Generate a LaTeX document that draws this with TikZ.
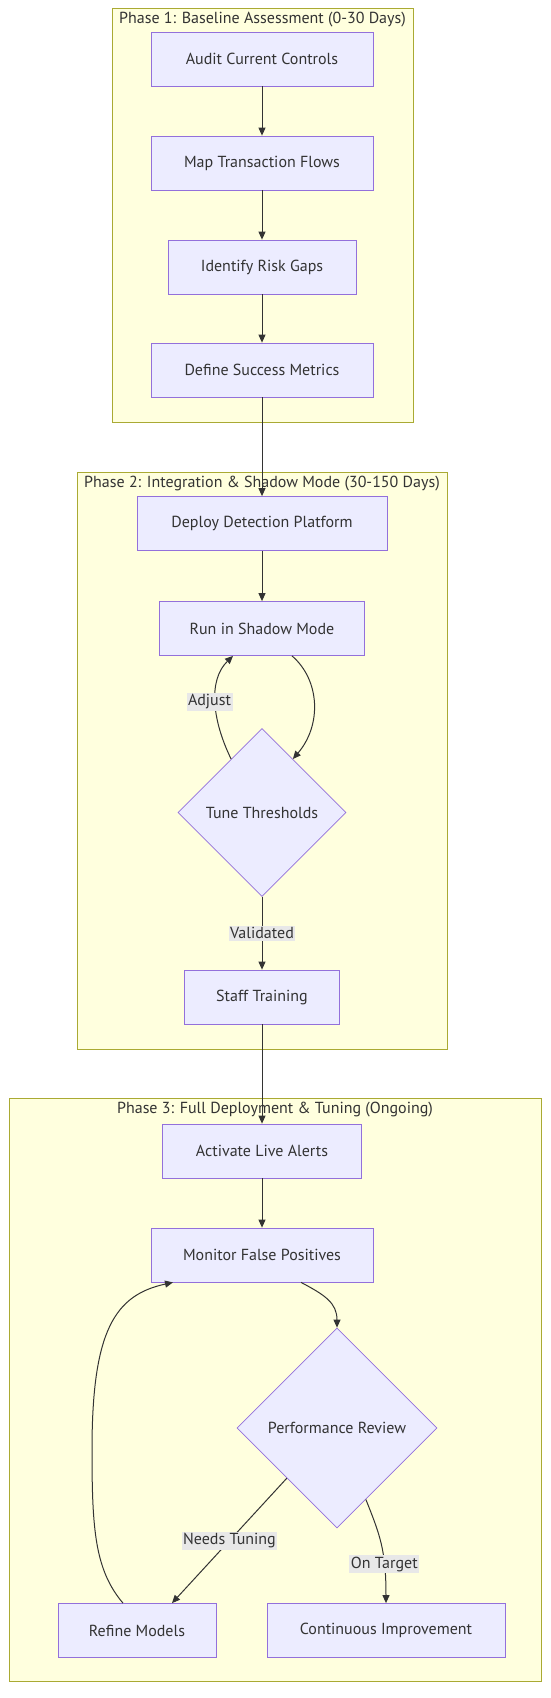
\documentclass[tikz,border=0pt]{standalone}
\usepackage{fontspec}
\setmainfont{PT Sans}
\usetikzlibrary{shapes.geometric,arrows.meta,backgrounds}
\definecolor{cajafondo}{HTML}{ECECFF}
\definecolor{cajaborde}{HTML}{9370DB}
\definecolor{fasefondo}{HTML}{FFFFDE}
\definecolor{faseborde}{HTML}{AAAA33}
\definecolor{linea}{HTML}{333333}
\definecolor{texto}{HTML}{333333}
\definecolor{etiquetafondo}{HTML}{E8E8E8}
\begin{document}
\begin{tikzpicture}[x=1pt,y=-1pt,
		letra/.style={font=\fontsize{16}{19}\selectfont, text=texto},
		caja/.style={letra, draw=cajaborde, fill=cajafondo, line width=0.75pt, minimum height=54pt},
		rombo/.style={letra, diamond, aspect=1, draw=cajaborde, fill=cajafondo, line width=0.75pt, inner sep=0pt},
		flecha/.style={draw=linea, line width=1pt, -{Triangle[length=8pt,width=7pt]}},
		etiqueta/.style={letra, fill=etiquetafondo, inner sep=1.5pt},
		fase/.style={draw=faseborde, fill=fasefondo, line width=0.75pt}]
		\useasboundingbox (0,0) rectangle (550,1698); % pixeles, y hacia abajo

		% fase 1
		\node[caja, minimum width=222pt] (audit) at (262, 59) {Audit Current Controls};
		\node[caja, minimum width=222pt] (map) at (262, 163) {Map Transaction Flows};
		\node[caja, minimum width=188pt] (identify) at (262, 267) {Identify Risk Gaps};
		\node[caja, minimum width=222pt] (define) at (262, 370) {Define Success Metrics};

		% fase 2
		\node[caja, minimum width=250pt] (deploy) at (262, 523.5) {Deploy Detection Platform};
		\node[caja, minimum width=205pt] (run) at (262, 628.5) {Run in Shadow Mode};
		\node[rombo, minimum width=168pt, minimum height=168pt] (tune) at (262, 812.5) {Tune Thresholds}; % rombo de 168
		\node[caja, minimum width=155pt] (staff) at (262, 997) {Staff Training};

		% fase 3
		\node[caja, minimum width=199pt] (activate) at (262, 1151) {Activate Live Alerts};
		\node[caja, minimum width=222pt] (monitor) at (262, 1255) {Monitor False Positives};
		\node[rombo, minimum width=200pt, minimum height=200pt] (perf) at (337, 1428) {Performance Review}; % rombo de 200
		\node[caja, minimum width=158pt] (refine) at (137, 1630.5) {Refine Models};
		\node[caja, minimum width=238pt] (cont) at (386, 1630.5) {Continuous Improvement};

		% flechas rectas
		\draw[flecha] (audit) -- (map);
		\draw[flecha] (map) -- (identify);
		\draw[flecha] (identify) -- (define);
		\draw[flecha] (define) -- (deploy);
		\draw[flecha] (deploy) -- (run);
		\draw[flecha] (tune) -- node[etiqueta] (valid) {Validated} (staff);
		\draw[flecha] (staff) -- (activate);
		\draw[flecha] (activate) -- (monitor);

		% flechas curvas
		\draw[flecha] ([xshift=30pt]run.south) .. controls (320, 680) and (322, 725) .. (tune.60);
		\draw[flecha] (tune.120) .. controls (212, 720) and (208, 680) .. ([xshift=-29pt]run.south) node[etiqueta, pos=0.5, xshift=-6pt] (adjust) {Adjust};
		\draw[flecha] ([xshift=39pt]monitor.south) .. controls (325, 1295) and (337, 1303) .. (perf.north);
		\draw[flecha] (perf.south west) -- node[etiqueta] (tuning) {Needs Tuning} ([xshift=35pt]refine.north);
		\draw[flecha] (perf.-68) .. controls (380, 1535) and (386, 1550) .. (cont.north) node[etiqueta, pos=0.7] (target) {On Target};
		\draw[flecha] ([xshift=-14pt]refine.north) .. controls (95, 1570) and (92, 1530) .. (92, 1450) .. controls (92, 1330) and (115, 1295) .. ([xshift=-89pt]monitor.south);

		% marcos de las fases, por debajo
		\begin{scope}[on background layer]
			\fill[white] (0,0) rectangle (550,1698);
			\draw[fase] (112, 8) rectangle (413, 422); % fase 1
			\draw[fase] (77, 472) rectangle (447, 1049); % fase 2
			\draw[fase] (9, 1098) rectangle (541, 1681); % fase 3
			\node[letra] (fase1) at (262.5, 20) {Phase 1: Baseline Assessment (0-30 Days)};
			\node[letra] (fase2) at (262, 484) {Phase 2: Integration \& Shadow Mode (30-150 Days)};
			\node[letra] (fase3) at (275, 1110) {Phase 3: Full Deployment \& Tuning (Ongoing)};
		\end{scope}
	\end{tikzpicture}
\end{document}
